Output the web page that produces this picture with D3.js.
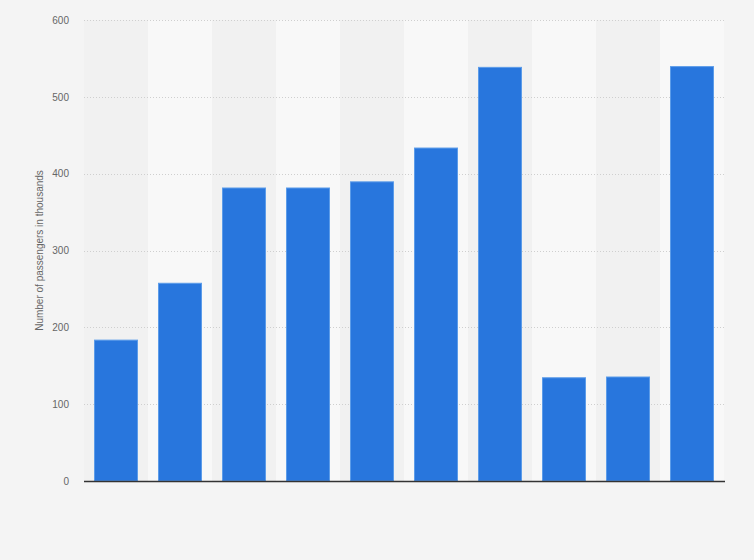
<!DOCTYPE html>
<html>
<head>
<meta charset="utf-8">
<script src="https://cdn.jsdelivr.net/npm/d3@7/dist/d3.min.js"></script>
<style>
html,body{margin:0;padding:0;background:#f4f4f4;}
svg{display:block;font-family:"Liberation Sans",Arial,sans-serif;}
</style>
</head>
<body>
<svg id="chart" width="754" height="560"></svg>
<script>
const categories = ["1","2","3","4","5","6","7","8","9","10"];
const values = [184, 258, 382, 382, 390, 434, 539, 135, 136, 540];
const yTicks = [0, 100, 200, 300, 400, 500, 600];
const yLabel = "Number of passengers in thousands";

const svg = d3.select("#chart");
const W = 754, H = 560;
const margin = {left: 84, right: 30, top: 20, bottom: 79};

svg.append("rect").attr("width", W).attr("height", H).attr("fill", "#f4f4f4");

const x = d3.scaleBand().domain(categories).range([margin.left, W - margin.right]).paddingInner(0.3125).paddingOuter(0.15625);
const xb = d3.scaleBand().domain(categories).range([margin.left, W - margin.right]).padding(0);
const y = d3.scaleLinear().domain([0, 600]).range([H - margin.bottom, margin.top]);

// alternating band backgrounds
svg.append("g").selectAll("rect").data(categories).join("rect")
  .attr("x", d => xb(d)).attr("width", xb.bandwidth())
  .attr("y", y(600)).attr("height", y(0) - y(600))
  .attr("fill", (d, i) => i % 2 === 0 ? "#f1f1f1" : "#f8f8f8");

// grid lines
svg.append("g").selectAll("line").data(yTicks.filter(t => t > 0)).join("line")
  .attr("x1", margin.left).attr("x2", W - margin.right)
  .attr("y1", d => Math.round(y(d)) + 0.5).attr("y2", d => Math.round(y(d)) + 0.5)
  .attr("stroke", "#cfcfcf").attr("stroke-width", 1).attr("stroke-dasharray", "1,2");

// y axis labels
const yAxis = d3.axisLeft(y).tickValues(yTicks).tickSize(0).tickPadding(15);
const ga = svg.append("g").attr("transform", `translate(${margin.left},0)`).call(yAxis);
ga.select(".domain").remove();
ga.selectAll("text").attr("fill", "#666").attr("font-size", "10px")
  .attr("font-family", "'Liberation Sans',Arial,sans-serif");

// bars
svg.append("g").selectAll("rect").data(values).join("rect")
  .attr("x", (d, i) => x(categories[i]) + 0.5)
  .attr("width", x.bandwidth() - 1)
  .attr("y", d => y(d) + 0.5)
  .attr("height", d => y(0) - y(d) - 0.5)
  .attr("fill", "#2876dd")
  .attr("stroke", "#5c9ce9").attr("stroke-width", 1);

// x axis baseline
svg.append("line")
  .attr("x1", margin.left).attr("x2", W - margin.right + 1)
  .attr("y1", y(0) + 0.5).attr("y2", y(0) + 0.5)
  .attr("stroke", "#333").attr("stroke-width", 1.5);

// y label
svg.append("text")
  .attr("transform", `translate(43,${(y(0) + y(600)) / 2}) rotate(-90)`)
  .attr("text-anchor", "middle")
  .attr("fill", "#666").attr("font-size", "10px")
  .text(yLabel);
</script>
</body>
</html>
